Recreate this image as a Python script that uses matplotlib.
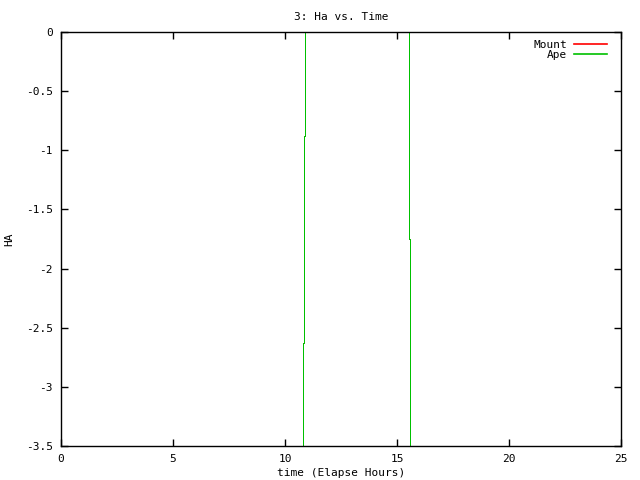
import matplotlib
matplotlib.use("Agg")
import matplotlib.pyplot as plt

# Data
mount_time = [10.82, 10.82, 10.85, 10.85, 10.89, 10.89, None, 15.55, 15.55, 15.59, 15.59]
mount_ha = [-3.5, -2.63, -2.63, -0.88, -0.88, 0.0, None, 0.0, -1.75, -1.75, -3.5]
ape_time = [10.82, 10.82, 10.85, 10.85, 10.89, 10.89, None, 15.55, 15.55, 15.59, 15.59]
ape_ha = [-3.5, -2.63, -2.63, -0.88, -0.88, 0.0, None, 0.0, -1.75, -1.75, -3.5]
xticks = [0, 5, 10, 15, 20, 25]
yticks = [0, -0.5, -1, -1.5, -2, -2.5, -3, -3.5]

def to_float(v):
    return float('nan') if v is None else v

plt.rcParams['font.family'] = ['DejaVu Sans Mono']
fig = plt.figure(figsize=(6.4, 4.8), dpi=100)
ax = fig.add_axes([61/640, 1-446/480, 560/640, 414/480])

ax.plot([to_float(v) for v in mount_time], [to_float(v) for v in mount_ha],
        color='#ff0000', lw=0.72, label='Mount', snap=True)
ax.plot([to_float(v) for v in ape_time], [to_float(v) for v in ape_ha],
        color='#00c000', lw=0.72, label='Ape', snap=True)

ax.set_xlim(0, 25)
ax.set_ylim(-3.5, 0)
ax.set_xticks(xticks)
ax.set_xticklabels([f"{v:g}" for v in xticks])
ax.set_yticks(yticks)
ax.set_yticklabels([f"{v:g}" for v in yticks])
ax.tick_params(direction='in', top=True, right=True, length=5, width=1,
               labelsize=8, pad=6)
for s in ax.spines.values():
    s.set_linewidth(1)

ax.set_title("3: Ha vs. Time", fontsize=8, pad=9)
ax.set_xlabel("time (Elapse Hours)", fontsize=8)
ax.xaxis.set_label_coords(0.5, -0.052)
ax.set_ylabel("HA", fontsize=8)
ax.yaxis.set_label_coords(-0.084, 0.5)

leg = ax.legend(loc='upper right', frameon=False, fontsize=8,
                markerfirst=False, handlelength=3.0, borderaxespad=0.0,
                borderpad=0.0, labelspacing=0.0, handletextpad=0.6,
                bbox_to_anchor=(1 - 14/560, 1 - 8.2/414))
for t in leg.get_texts():
    t.set_ha('right')
for h in leg.get_lines():
    h.set_linewidth(1.2)

fig.savefig("out.png", dpi=100)
